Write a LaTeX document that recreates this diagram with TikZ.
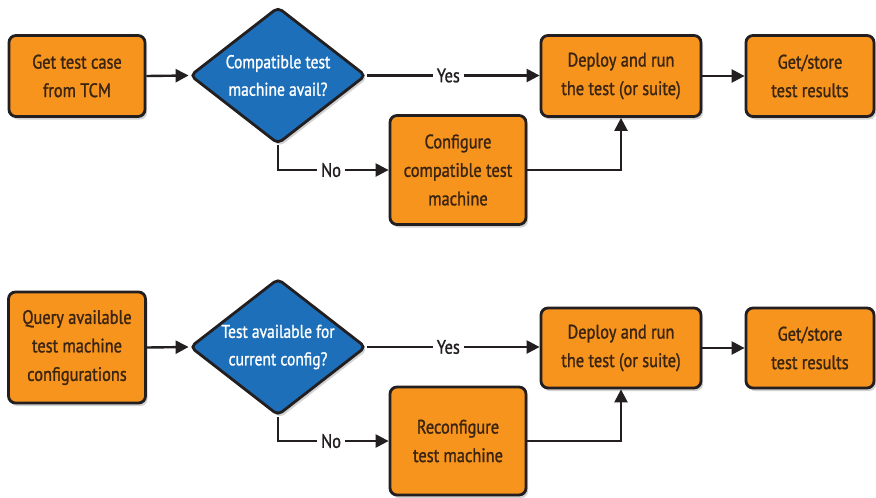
\documentclass[tikz,border=0pt]{standalone}
\usepackage{fontspec}
\setmainfont{PT Sans}[FakeStretch=0.84, FakeBold=1.2]
\usetikzlibrary{shapes.geometric,arrows.meta,shadows}
\definecolor{boxorange}{HTML}{F7941D}
\definecolor{dblue}{HTML}{1C6FB8}
\definecolor{edge}{HTML}{231F20}
\definecolor{btext}{HTML}{3A2412}
\tikzset{
  procbox/.style={draw=edge, line width=2.8pt, fill=boxorange, rounded corners=7pt,
    text=btext, align=center, inner sep=2pt, font=\fontsize{19.5}{28.5}\selectfont,
    drop shadow={opacity=0.35, shadow xshift=2pt, shadow yshift=-3pt}},
  decbox/.style={diamond, aspect=1.28, draw=edge, line width=2.8pt, fill=dblue, rounded corners=5pt,
    text=white, align=center, inner sep=-8pt, font=\fontsize{18.5}{27.5}\selectfont,
    minimum width=176pt, minimum height=137pt,
    drop shadow={opacity=0.35, shadow xshift=2pt, shadow yshift=-3pt}},
  arr/.style={draw=edge, line width=2.4pt, -{Triangle[length=13pt,width=13pt]}},
  lbl/.style={fill=white, text=edge, inner sep=4pt, font=\fontsize{19.5}{22}\selectfont},
}
\begin{document}
\begin{tikzpicture}[x=1pt,y=-1pt]
\useasboundingbox[fill=white] (0,0) rectangle (876,498);
% top row
\node[procbox, minimum width=136pt, minimum height=81pt] (a1) at (77,76) {Get test case\\from TCM};
\node[decbox] (d1) at (278,75.5) {Compatible test\\machine avail?};
\node[procbox, minimum width=160pt, minimum height=81pt] (p1) at (621,76) {Deploy and run\\the test (or suite)};
\node[procbox, minimum width=128pt, minimum height=81pt] (g1) at (810,76) {Get/store\\test results};
\node[procbox, minimum width=136pt, minimum height=109pt] (c1) at (458,170) {Configure\\compatible test\\machine};
\draw[arr] (a1.east) -- (d1.west);
\draw[arr] (d1.east) -- node[lbl, pos=0.47] {Yes} (d1.east -| p1.west);
\draw[arr] (p1.east) -- (g1.west);
\draw[arr] (d1.south) |- node[lbl, pos=0.74] {No} (c1.west);
\draw[arr] (c1.east) -| (p1.south);
% bottom row
\node[procbox, minimum width=137pt, minimum height=111pt] (a2) at (77,347.5) {Query available\\test machine\\configurations};
\node[decbox] (d2) at (278,347) {Test available for\\current config?};
\node[procbox, minimum width=160pt, minimum height=80pt] (p2) at (621,348) {Deploy and run\\the test (or suite)};
\node[procbox, minimum width=128pt, minimum height=80pt] (g2) at (810,348) {Get/store\\test results};
\node[procbox, minimum width=136pt, minimum height=108pt] (c2) at (458,441) {Reconfigure\\test machine};
\draw[arr] (a2.east) -- (d2.west);
\draw[arr] (d2.east) -- node[lbl, pos=0.47] {Yes} (d2.east -| p2.west);
\draw[arr] (p2.east) -- (g2.west);
\draw[arr] (d2.south) |- node[lbl, pos=0.74] {No} (c2.west);
\draw[arr] (c2.east) -| (p2.south);
\end{tikzpicture}
\end{document}
